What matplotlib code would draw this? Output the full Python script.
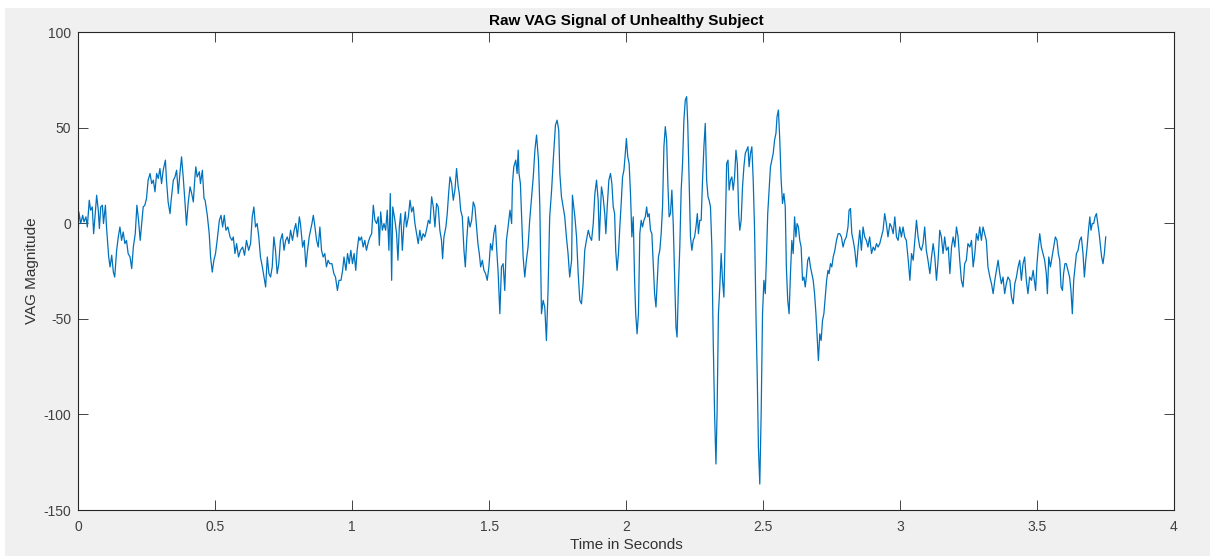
import numpy as np
import matplotlib.pyplot as plt
from matplotlib.patches import Rectangle

plt.rcParams['font.family'] = ['Liberation Sans', 'DejaVu Sans']
plt.rcParams['axes.unicode_minus'] = False

# Traced signal, split in four time segments (seconds, magnitude)
t_seg1 = [0.000, 0.002, 0.009, 0.016, 0.021, 0.028, 0.033, 0.040, 0.045, 0.051,
          0.056, 0.061, 0.067, 0.073, 0.077, 0.082, 0.088, 0.092, 0.099, 0.103,
          0.111, 0.116, 0.122, 0.128, 0.133, 0.140, 0.146, 0.152, 0.158, 0.164,
          0.170, 0.176, 0.182, 0.189, 0.195, 0.201, 0.208, 0.214, 0.220, 0.226,
          0.231, 0.237, 0.243, 0.249, 0.255, 0.262, 0.268, 0.274, 0.280, 0.286,
          0.292, 0.298, 0.304, 0.310, 0.318, 0.322, 0.328, 0.335, 0.339, 0.347,
          0.353, 0.359, 0.365, 0.371, 0.377, 0.383, 0.389, 0.395, 0.401, 0.408,
          0.414, 0.420, 0.425, 0.429, 0.434, 0.442, 0.446, 0.453, 0.459, 0.463,
          0.471, 0.478, 0.483, 0.489, 0.495, 0.501, 0.507, 0.515, 0.521, 0.527,
          0.533, 0.539, 0.546, 0.554, 0.561, 0.566, 0.572, 0.578, 0.585, 0.592,
          0.600, 0.607, 0.614, 0.622, 0.629, 0.635, 0.641, 0.647, 0.653, 0.659,
          0.665, 0.672, 0.678, 0.684, 0.690, 0.696, 0.702, 0.708, 0.714, 0.720,
          0.726, 0.732, 0.738, 0.745, 0.751, 0.757, 0.763, 0.769, 0.775, 0.782,
          0.788, 0.794, 0.800, 0.807, 0.811, 0.819, 0.825, 0.831, 0.837, 0.843,
          0.848, 0.853, 0.858, 0.864, 0.870, 0.876, 0.882, 0.888, 0.894, 0.900,
          0.906, 0.912, 0.918, 0.926, 0.933, 0.939, 0.946, 0.952, 0.959, 0.965,
          0.970, 0.977, 0.983, 0.989, 0.995, 1.001, 1.007, 1.013, 1.018, 1.024]
v_seg1 = [-5.4, 6.0, -0.1, 4.2, 0.8, 3.4, -1.9, 12.1, 6.9, 8.6,
          -5.4, 3.4, 14.7, 6.9, -2.7, 8.6, 9.5, -0.1, 9.5, -1.9,
          -17.6, -22.8, -16.7, -25.5, -28.1, -14.1, -7.1, -1.9, -8.9, -4.5,
          -10.6, -8.9, -15.8, -17.6, -23.7, -12.4, -5.4, 9.5, 1.6, -8.9,
          -1.0, 8.6, 9.5, 13.0, 22.6, 26.1, 20.8, 22.6, 16.5, 26.1,
          23.5, 28.7, 20.8, 27.8, 33.1, 22.6, 11.2, 5.1, 12.1, 22.6,
          24.3, 27.8, 15.6, 26.1, 34.8, 24.3, 12.1, -1.0, 10.4, 19.1,
          15.6, 11.2, 22.6, 29.6, 24.3, 27.0, 20.8, 27.8, 13.0, 12.1,
          4.2, -5.4, -17.6, -25.5, -19.3, -15.8, -8.9, 1.6, 4.2, -1.9,
          4.2, -3.6, -1.9, -7.1, -8.9, -7.1, -15.8, -10.6, -17.6, -14.1,
          -12.4, -16.7, -8.9, -14.1, -10.6, 3.4, 8.6, -1.9, -0.1, -7.1,
          -17.6, -22.8, -28.1, -33.3, -17.6, -26.3, -28.1, -22.8, -7.1, -14.1,
          -26.3, -21.1, -8.9, -5.4, -14.1, -8.9, -7.1, -10.6, -3.6, -8.9,
          -3.6, -0.1, -7.1, 3.4, -0.1, -12.4, -8.9, -22.8, -14.1, -7.1,
          -3.6, -0.1, 4.2, -1.9, -8.9, -12.4, -1.9, -14.1, -17.6, -15.8,
          -22.8, -19.3, -21.1, -21.1, -26.3, -28.1, -35.1, -29.8, -29.8, -24.6,
          -17.6, -24.6, -15.8, -21.1, -14.1, -21.1, -15.8, -24.6, -14.1, -7.1]

t_seg2 = [1.028, 1.034, 1.040, 1.046, 1.052, 1.059, 1.065, 1.071, 1.077, 1.083,
          1.089, 1.095, 1.099, 1.104, 1.110, 1.116, 1.122, 1.128, 1.134, 1.139,
          1.144, 1.148, 1.156, 1.162, 1.167, 1.172, 1.177, 1.183, 1.189, 1.194,
          1.198, 1.205, 1.211, 1.217, 1.223, 1.229, 1.235, 1.241, 1.247, 1.253,
          1.259, 1.265, 1.271, 1.278, 1.284, 1.290, 1.296, 1.302, 1.308, 1.314,
          1.320, 1.326, 1.330, 1.335, 1.342, 1.347, 1.352, 1.357, 1.363, 1.369,
          1.375, 1.381, 1.387, 1.391, 1.396, 1.402, 1.408, 1.413, 1.418, 1.424,
          1.430, 1.436, 1.442, 1.448, 1.454, 1.459, 1.464, 1.469, 1.475, 1.481,
          1.487, 1.493, 1.499, 1.505, 1.511, 1.517, 1.523, 1.527, 1.533, 1.539,
          1.545, 1.551, 1.557, 1.563, 1.569, 1.576, 1.582, 1.585, 1.590, 1.597,
          1.602, 1.606, 1.609, 1.614, 1.619, 1.624, 1.630, 1.636, 1.642, 1.648,
          1.654, 1.661, 1.667, 1.673, 1.680, 1.685, 1.691, 1.697, 1.703, 1.709,
          1.715, 1.721, 1.728, 1.734, 1.742, 1.748, 1.754, 1.758, 1.764, 1.770,
          1.776, 1.782, 1.788, 1.794, 1.801, 1.804, 1.813, 1.819, 1.825, 1.831,
          1.837, 1.843, 1.849, 1.855, 1.862, 1.868, 1.874, 1.880, 1.886, 1.892,
          1.898, 1.902]
v_seg2 = [-8.9, -7.1, -12.4, -8.9, -14.1, -9.7, -7.1, -5.4, 9.5, 1.6,
          -0.1, 3.4, -11.5, 6.0, -3.6, -0.1, -3.6, 6.9, -14.1, 15.6,
          -29.8, 8.6, 1.6, -5.4, -19.3, -1.9, 5.1, -14.1, -0.1, 6.0,
          -1.9, 3.4, 12.1, 6.0, 8.6, -0.1, -5.4, -10.6, -3.6, -8.9,
          -5.4, -7.1, -3.6, 1.6, -0.1, 13.9, 8.6, -1.9, 10.4, 8.6,
          -3.6, -8.9, -18.5, -7.1, -1.9, 5.1, 15.6, 24.3, 20.8, 12.1,
          17.4, 28.7, 19.1, 15.6, 6.9, 3.4, -14.1, -22.8, -8.9, 3.4,
          -1.9, 1.6, 11.2, 8.6, -1.9, -10.6, -15.8, -22.8, -19.3, -24.6,
          -26.3, -29.8, -22.8, -10.6, -14.1, -5.4, -1.0, -12.4, -26.3, -47.3,
          -22.8, -21.1, -35.1, -8.9, -1.9, 6.9, -0.1, 20.8, 29.6, 33.1,
          26.1, 38.3, 26.1, 20.8, 1.6, -17.6, -28.1, -19.3, -12.4, 1.6,
          12.1, 24.3, 38.3, 46.2, 33.1, 8.6, -47.3, -40.3, -43.8, -61.3,
          -35.1, 3.4, 17.4, 33.1, 51.4, 54.0, 48.8, 26.1, 13.9, 8.6,
          3.4, -7.1, -15.8, -28.1, -19.3, 14.7, 3.4, -7.1, -26.3, -40.3,
          -42.1, -31.6, -14.1, -8.9, -3.6, -7.1, -8.9, -0.1, 15.6, 22.6,
          12.1, -8.9]

t_seg3 = [1.910, 1.916, 1.922, 1.926, 1.931, 1.937, 1.943, 1.948, 1.953, 1.958,
          1.962, 1.967, 1.972, 1.977, 1.982, 1.987, 1.992, 1.997, 2.001, 2.006,
          2.011, 2.016, 2.021, 2.026, 2.031, 2.035, 2.040, 2.045, 2.050, 2.055,
          2.060, 2.065, 2.070, 2.075, 2.079, 2.084, 2.089, 2.094, 2.099, 2.104,
          2.109, 2.114, 2.118, 2.123, 2.128, 2.133, 2.138, 2.143, 2.148, 2.152,
          2.157, 2.162, 2.167, 2.172, 2.177, 2.182, 2.186, 2.191, 2.196, 2.201,
          2.206, 2.211, 2.216, 2.221, 2.225, 2.230, 2.235, 2.240, 2.245, 2.250,
          2.255, 2.260, 2.264, 2.269, 2.274, 2.279, 2.284, 2.289, 2.294, 2.299,
          2.303, 2.308, 2.313, 2.318, 2.323, 2.328, 2.332, 2.337, 2.342, 2.347,
          2.352, 2.357, 2.362, 2.367, 2.372, 2.376, 2.381, 2.386, 2.391, 2.396,
          2.401, 2.406, 2.411, 2.415, 2.420, 2.425, 2.430, 2.435, 2.440, 2.445,
          2.449, 2.454, 2.459, 2.464, 2.469, 2.474, 2.479, 2.483, 2.488, 2.493,
          2.498, 2.503, 2.508, 2.512, 2.517, 2.522, 2.527, 2.532, 2.537, 2.542,
          2.547, 2.551, 2.556, 2.561, 2.566, 2.571, 2.576, 2.581, 2.585, 2.590,
          2.595, 2.600, 2.605, 2.610, 2.615, 2.620, 2.624, 2.629, 2.634, 2.639,
          2.644, 2.649, 2.654, 2.659, 2.663, 2.668, 2.673, 2.678, 2.683, 2.688,
          2.693, 2.697, 2.702, 2.707, 2.712, 2.717, 2.722, 2.727, 2.732, 2.737,
          2.741, 2.746, 2.751, 2.756, 2.762, 2.768, 2.774, 2.780, 2.786, 2.792,
          2.798, 2.804, 2.810, 2.814]
v_seg3 = [19.1, 13.9, 5.1, -5.4, 8.6, 22.6, 26.1, 20.8, 8.6, 5.1,
          -14.1, -24.6, -15.8, -1.9, 10.4, 24.3, 27.8, 36.6, 44.4, 34.8,
          31.3, 15.6, -7.1, 3.4, -29.8, -47.3, -57.8, -47.3, -5.4, 1.6,
          -1.9, 1.6, 3.4, 8.6, 3.4, 5.1, -3.6, -5.4, -21.1, -36.8,
          -43.8, -29.8, -17.6, -14.1, -5.4, 8.6, 40.1, 50.6, 43.6, 22.6,
          3.4, 5.1, 17.4, -0.1, -26.3, -54.3, -59.5, -33.3, -12.4, 17.4,
          31.3, 54.0, 64.5, 66.3, 52.3, 22.6, -7.1, -14.1, -8.9, -7.1,
          -1.9, 5.1, -5.4, 1.6, 1.6, 22.6, 40.1, 52.3, 22.6, 13.9,
          12.1, 8.6, -12.4, -61.3, -99.7, -125.9, -99.7, -47.3, -33.3, -15.8,
          -29.8, -38.6, -3.6, 31.3, 33.1, 17.4, 22.6, 24.3, 17.4, 24.3,
          38.3, 31.3, 5.1, -3.6, 1.6, 19.1, 29.6, 36.6, 38.3, 40.1,
          29.6, 36.6, 40.1, 22.6, -3.6, -47.3, -82.2, -117.1, -136.4, -99.7,
          -47.3, -29.8, -36.8, -19.3, 5.1, 17.4, 29.6, 33.1, 36.6, 43.6,
          47.1, 55.8, 59.3, 43.6, 22.6, 10.4, 15.6, 8.6, -22.8, -40.3,
          -47.3, -26.3, -8.9, -15.8, 3.4, -7.1, -0.1, -1.9, -8.9, -12.4,
          -29.8, -28.1, -33.3, -26.3, -19.3, -17.6, -22.8, -26.3, -29.8, -36.8,
          -47.3, -57.8, -71.8, -57.8, -61.3, -50.8, -47.3, -38.6, -29.8, -24.6,
          -26.3, -21.1, -22.8, -17.6, -14.1, -8.9, -5.4, -5.4, -7.1, -12.4,
          -8.9, -7.1, -1.9, 6.9]

t_seg4 = [2.819, 2.824, 2.829, 2.835, 2.841, 2.847, 2.853, 2.859, 2.865, 2.871,
          2.877, 2.883, 2.889, 2.896, 2.902, 2.908, 2.914, 2.920, 2.926, 2.932,
          2.938, 2.944, 2.950, 2.956, 2.963, 2.969, 2.975, 2.981, 2.987, 2.993,
          2.999, 3.005, 3.011, 3.017, 3.023, 3.030, 3.036, 3.042, 3.048, 3.054,
          3.060, 3.066, 3.072, 3.078, 3.084, 3.090, 3.096, 3.102, 3.109, 3.115,
          3.121, 3.127, 3.133, 3.139, 3.145, 3.151, 3.157, 3.163, 3.169, 3.176,
          3.182, 3.188, 3.194, 3.200, 3.206, 3.212, 3.218, 3.224, 3.230, 3.236,
          3.242, 3.248, 3.255, 3.261, 3.267, 3.273, 3.279, 3.285, 3.291, 3.297,
          3.303, 3.309, 3.315, 3.321, 3.328, 3.334, 3.340, 3.346, 3.352, 3.358,
          3.364, 3.370, 3.376, 3.382, 3.388, 3.394, 3.401, 3.407, 3.413, 3.419,
          3.425, 3.431, 3.437, 3.443, 3.449, 3.455, 3.461, 3.467, 3.473, 3.480,
          3.486, 3.492, 3.495, 3.500, 3.505, 3.510, 3.516, 3.522, 3.528, 3.534,
          3.538, 3.543, 3.549, 3.555, 3.561, 3.567, 3.573, 3.578, 3.583, 3.588,
          3.593, 3.597, 3.602, 3.607, 3.613, 3.619, 3.624, 3.629, 3.634, 3.639,
          3.644, 3.650, 3.656, 3.662, 3.668, 3.673, 3.678, 3.683, 3.688, 3.693,
          3.697, 3.702, 3.707, 3.712, 3.717, 3.722, 3.727, 3.731, 3.736, 3.741,
          3.746, 3.751]
v_seg4 = [7.8, -5.4, -8.9, -14.1, -22.8, -12.4, -3.6, -14.1, -1.9, -7.1,
          -8.9, -12.4, -7.1, -15.8, -12.4, -14.1, -10.6, -12.4, -10.6, -7.1,
          -3.6, 5.1, -0.1, -7.1, -0.1, -1.9, -5.4, 3.4, -7.1, -8.9,
          -1.9, -7.1, -1.9, -7.1, -8.9, -19.3, -29.8, -15.8, -19.3, -8.9,
          1.6, -7.1, -12.4, -14.1, -10.6, -1.9, -14.1, -19.3, -26.3, -17.6,
          -10.6, -17.6, -29.8, -19.3, -3.6, -7.1, -15.8, -7.1, -14.1, -12.4,
          -26.3, -12.4, -7.1, -12.4, -1.9, -7.1, -19.3, -29.8, -33.3, -21.1,
          -19.3, -10.6, -12.4, -8.9, -22.8, -15.8, -5.4, -8.9, -1.9, -8.9,
          -1.9, -5.4, -8.9, -22.8, -28.1, -31.6, -36.8, -29.8, -24.6, -19.3,
          -26.3, -31.6, -28.1, -36.8, -31.6, -28.1, -29.8, -38.6, -42.1, -31.6,
          -28.1, -22.8, -19.3, -29.8, -21.1, -17.6, -29.8, -36.8, -28.1, -29.8,
          -24.6, -31.6, -35.1, -21.1, -12.4, -5.4, -12.4, -15.8, -19.3, -26.3,
          -36.8, -17.6, -22.8, -17.6, -12.4, -7.1, -8.9, -15.8, -19.3, -33.3,
          -35.1, -26.3, -21.1, -21.1, -24.6, -28.1, -35.1, -47.3, -29.8, -22.8,
          -15.8, -14.1, -8.9, -7.1, -15.8, -28.1, -19.3, -12.4, -3.6, 3.4,
          -3.6, -0.1, -0.1, 3.4, 5.1, -0.1, -5.4, -10.6, -17.6, -21.1,
          -15.8, -7.1]

x_ticks = [0, 0.5, 1, 1.5, 2, 2.5, 3, 3.5, 4]
x_tick_labels = ['0', '0.5', '1', '1.5', '2', '2.5', '3', '3.5', '4']
y_ticks = [-150, -100, -50, 0, 50, 100]

time = np.concatenate([t_seg1, t_seg2, t_seg3, t_seg4])
vag = np.concatenate([v_seg1, v_seg2, v_seg3, v_seg4])

fig = plt.figure(figsize=(12.10, 5.56), dpi=100, facecolor='white')
# grey MATLAB figure background (screenshot has a thin white edge)
fig.patches.append(Rectangle((0.004, 0), 0.996, 0.986, transform=fig.transFigure,
                             facecolor='#f0f0f0', edgecolor='none', zorder=-10))

ax = fig.add_axes([0.0647, 0.0827, 0.9055, 0.8593])
ax.plot(time, vag, color='#0072BD', linewidth=0.9)

ax.set_xlim(0, 4)
ax.set_ylim(-150, 100)
ax.set_xticks(x_ticks)
ax.set_xticklabels(x_tick_labels)
ax.set_yticks(y_ticks)
ax.tick_params(direction='in', length=7, width=0.6, top=True, right=True,
               labelsize=10, colors='#262626', labelcolor='#404040')
ax.tick_params(axis='x', pad=7)
ax.tick_params(axis='y', pad=5)
for sp in ax.spines.values():
    sp.set_color('#262626')
    sp.set_linewidth(0.8)

ax.set_title('Raw VAG Signal of Unhealthy Subject', fontsize=11,
             fontweight='bold', color='black', pad=5)
ax.set_xlabel('Time in Seconds', fontsize=11, color='#333333', labelpad=3)
ax.set_ylabel('VAG Magnitude', fontsize=11, color='#333333', labelpad=3)

fig.savefig('out.png', dpi=100, facecolor=fig.get_facecolor())
